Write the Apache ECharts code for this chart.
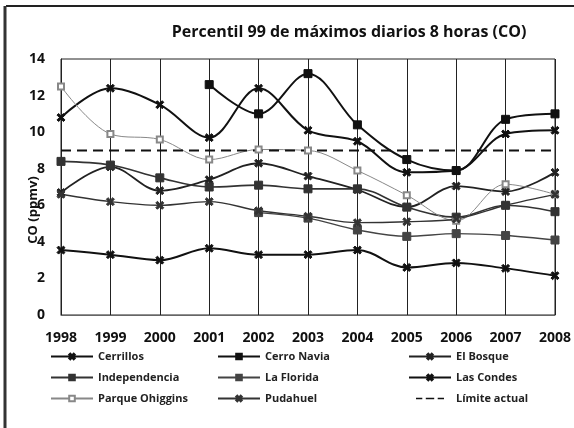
<!DOCTYPE html>
<html>
<head>
<meta charset="utf-8">
<script src="https://cdn.jsdelivr.net/npm/echarts@6/dist/echarts.min.js"></script>
<style>
  html, body { margin: 0; padding: 0; background: #fff; }
  #chart { width: 574px; height: 428px; }
</style>
</head>
<body>
<div id="chart"></div>
<script>
const years = ['1998', '1999', '2000', '2001', '2002', '2003', '2004', '2005', '2006', '2007', '2008'];

const cerrillos = [10.8, 12.4, 11.5, 9.7, 12.4, 10.1, 9.5, 7.8, 7.9, 9.9, 10.1];
const cerroNavia = [null, null, null, 12.6, 11.0, 13.2, 10.4, 8.5, 7.9, 10.7, 11.0];
const elBosque = [6.7, 8.1, 6.8, 7.4, 8.3, 7.6, 6.85, 5.9, 7.05, 6.75, 7.8];
const independencia = [8.4, 8.2, 7.5, 7.0, 7.1, 6.9, 6.9, 5.9, 5.35, 6.0, 5.65];
const laFlorida = [null, null, null, null, 5.6, 5.3, 4.65, 4.3, 4.45, 4.35, 4.1];
const lasCondes = [3.55, 3.3, 3.0, 3.65, 3.3, 3.3, 3.55, 2.6, 2.85, 2.55, 2.15];
const parqueOhiggins = [12.5, 9.9, 9.6, 8.5, 9.05, 9.0, 7.9, 6.55, 5.15, 7.15, 6.6];
const pudahuel = [6.6, 6.2, 6.0, 6.2, 5.7, 5.4, 5.05, 5.1, 5.25, 6.0, 6.6];
const limiteActual = [9, 9, 9, 9, 9, 9, 9, 9, 9, 9, 9];

const yTicks = [0, 2, 4, 6, 8, 10, 12, 14];

// filled "x" marker
const crossMark = 'path://M0,2L2,0L5,3L8,0L10,2L7,5L10,8L8,10L5,7L2,10L0,8L3,5Z';
// dashed legend icon (tiny corner triangles keep the 40x10 box)
const dashIcon = 'path://M0,0L0.1,0L0,0.1ZM40,10L39.9,10L40,9.9ZM0,4H9V6H0ZM14,4H26V6H14ZM31,4H40V6H31Z';

const line = (name, data, color, width, symbol, symbolSize) => ({
    name: name,
    type: 'line',
    data: data,
    smooth: 0.35,
    symbol: symbol,
    symbolSize: symbolSize || 8,
    lineStyle: { color: color, width: width },
    itemStyle: { color: color, borderColor: color, borderWidth: 1 },
    emphasis: { disabled: true }
});

const chart = echarts.init(document.getElementById('chart'));

const font = '"Open Sans", sans-serif';

const legendBase = {
    orient: 'vertical',
    top: 346,
    itemGap: 10,
    itemWidth: 42,
    itemHeight: 7,
    textStyle: { fontFamily: font, fontSize: 11, fontWeight: 'bold', color: '#222' }
};

const option = {
    backgroundColor: '#fff',
    animation: false,
    title: {
        text: 'Percentil 99 de máximos diarios 8 horas (CO)',
        left: 344,
        textAlign: 'center',
        top: 19,
        textStyle: { fontFamily: font, fontSize: 16, fontWeight: 'bold', color: '#111' }
    },
    legend: [
        Object.assign({ left: 45, data: ['Cerrillos', 'Independencia', 'Parque Ohiggins'] }, legendBase),
        Object.assign({ left: 212, data: ['Cerro Navia', 'La Florida', 'Pudahuel'] }, legendBase),
        Object.assign({ left: 403, data: ['El Bosque', 'Las Condes', { name: 'Límite actual', icon: dashIcon }] }, legendBase)
    ],
    grid: {
        left: 61,
        right: 17,
        top: 59,
        bottom: 113,
        show: true,
        borderColor: '#222',
        borderWidth: 1
    },
    xAxis: {
        type: 'category',
        data: years,
        boundaryGap: false,
        axisLine: { lineStyle: { color: '#666', width: 1 } },
        axisTick: { show: false },
        axisLabel: { margin: 16, fontFamily: font, fontSize: 14, fontWeight: 'bold', color: '#111' },
        splitLine: { show: true, lineStyle: { color: '#222', width: 1 } }
    },
    yAxis: {
        type: 'value',
        min: yTicks[0],
        max: yTicks[yTicks.length - 1],
        interval: 2,
        name: 'CO (ppmv)',
        nameLocation: 'middle',
        nameGap: 21,
        nameMoveOverlap: false,
        nameTextStyle: { fontFamily: font, fontSize: 13, fontWeight: 'bold', color: '#111', padding: [0, 46, 0, 0] },
        axisLine: { show: true, lineStyle: { color: '#222', width: 1 } },
        axisTick: { show: false },
        axisLabel: { margin: 16, fontFamily: font, fontSize: 14, fontWeight: 'bold', color: '#111' },
        splitLine: { show: false }
    },
    graphic: [
        { type: 'line', shape: { x1: 6, y1: 6, x2: 574, y2: 6 }, style: { stroke: '#222', lineWidth: 2 } },
        { type: 'line', shape: { x1: 5, y1: 6, x2: 5, y2: 428 }, style: { stroke: '#333', lineWidth: 3 } }
    ],
    series: [
        line('Cerrillos', cerrillos, '#111', 2, crossMark),
        line('Cerro Navia', cerroNavia, '#111', 2, 'rect'),
        line('El Bosque', elBosque, '#222', 1.8, crossMark),
        line('Independencia', independencia, '#333', 1.6, 'rect'),
        line('La Florida', laFlorida, '#444', 1.4, 'rect'),
        line('Las Condes', lasCondes, '#111', 2, crossMark),
        line('Parque Ohiggins', parqueOhiggins, '#888', 1, 'emptyRect', 6),
        line('Pudahuel', pudahuel, '#333', 1.4, crossMark),
        {
            name: 'Límite actual',
            type: 'line',
            data: limiteActual,
            symbol: 'none',
            lineStyle: { color: '#111', width: 2, type: [10, 6] },
            itemStyle: { color: '#111' },
            emphasis: { disabled: true }
        }
    ]
};

chart.setOption(option);
</script>
</body>
</html>
